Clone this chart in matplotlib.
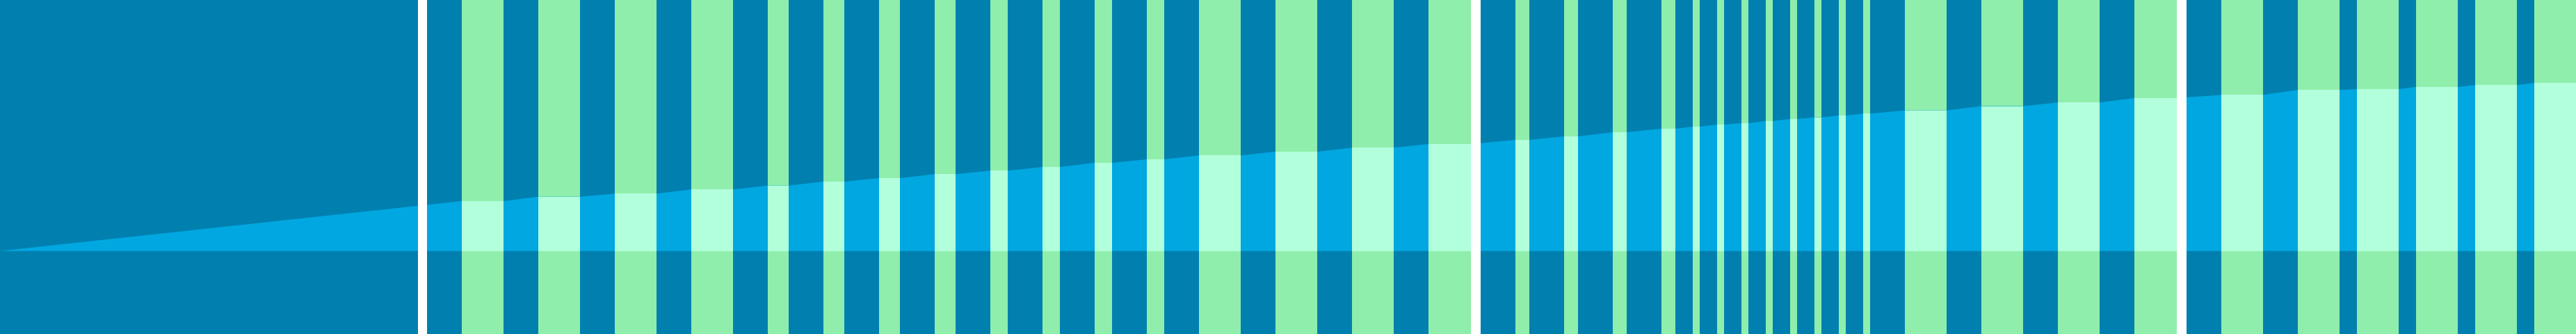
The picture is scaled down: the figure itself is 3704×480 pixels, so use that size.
import matplotlib
matplotlib.use('Agg')
import matplotlib.pyplot as plt

# colours
fundo = '#0180b0'       # dark blue background
area_cor = '#01a7e1'    # light blue area
faixa_cor = '#8feeab'   # green bands
faixa_area = '#b2ffdc'  # band inside the area

# green bands: start, end (x) and the area level held flat across each band
faixa_ini = [663.7, 774, 884, 994, 1104, 1184, 1264, 1344, 1424, 1499, 1574, 1649,
             1724, 1834, 1944, 2054,
             2179, 2249, 2319, 2389, 2434, 2469, 2504, 2539, 2574, 2609, 2644, 2679,
             2739, 2849, 2959, 3069,
             3194, 3304, 3389, 3474, 3559, 3644]
faixa_fim = [724, 834, 944, 1053.7, 1134, 1214, 1294, 1374, 1449, 1524, 1599, 1674,
             1784, 1894, 2004, 2115,
             2199, 2269, 2339, 2409, 2444, 2479, 2514, 2549, 2584, 2619, 2654, 2689,
             2799, 2909, 3019, 3130,
             3254, 3364, 3449, 3534, 3619, 3705]
nivel = [71.7, 78.0, 82.4, 88.4, 94.0, 99.7, 104.7, 110.4, 115.4, 120.7, 126.7, 131.7,
         137.4, 142.7, 148.4, 153.7,
         159.7, 164.7, 170.7, 175.7, 178.7, 181.7, 183.7, 186.7, 189.7, 192.0, 194.7, 197.4,
         202.0, 208.2, 213.4, 219.7,
         224.4, 231.4, 232.7, 235.7, 238.4, 241.4]

# white separators between the sections
separador_ini = [601, 2115, 3130]
separador_fim = [614, 2129, 3144]

# area outline: starts at zero, flat across each band
xs = [0]
ys = [0]
for a, b, h in zip(faixa_ini, faixa_fim, nivel):
    xs += [a, b]
    ys += [h, h]

fig = plt.figure(figsize=(37.05, 4.8), dpi=100)
ax = fig.add_axes([0, 0, 1, 1])
ax.set_facecolor(fundo)

for a, b in zip(faixa_ini, faixa_fim):
    ax.axvspan(a, b, color=faixa_cor, lw=0, zorder=1)

ax.fill_between(xs, 0, ys, color=area_cor, lw=0, zorder=2)

for a, b, h in zip(faixa_ini, faixa_fim, nivel):
    ax.fill_between([a, b], 0, [h, h], color=faixa_area, lw=0, zorder=3)

for a, b in zip(separador_ini, separador_fim):
    ax.axvspan(a, b, color='white', lw=0, zorder=4)

ax.set_xlim(0, 3705)
ax.set_ylim(-119.3, 360.7)
ax.axis('off')

fig.savefig('out.png', dpi=100, facecolor=fundo)
